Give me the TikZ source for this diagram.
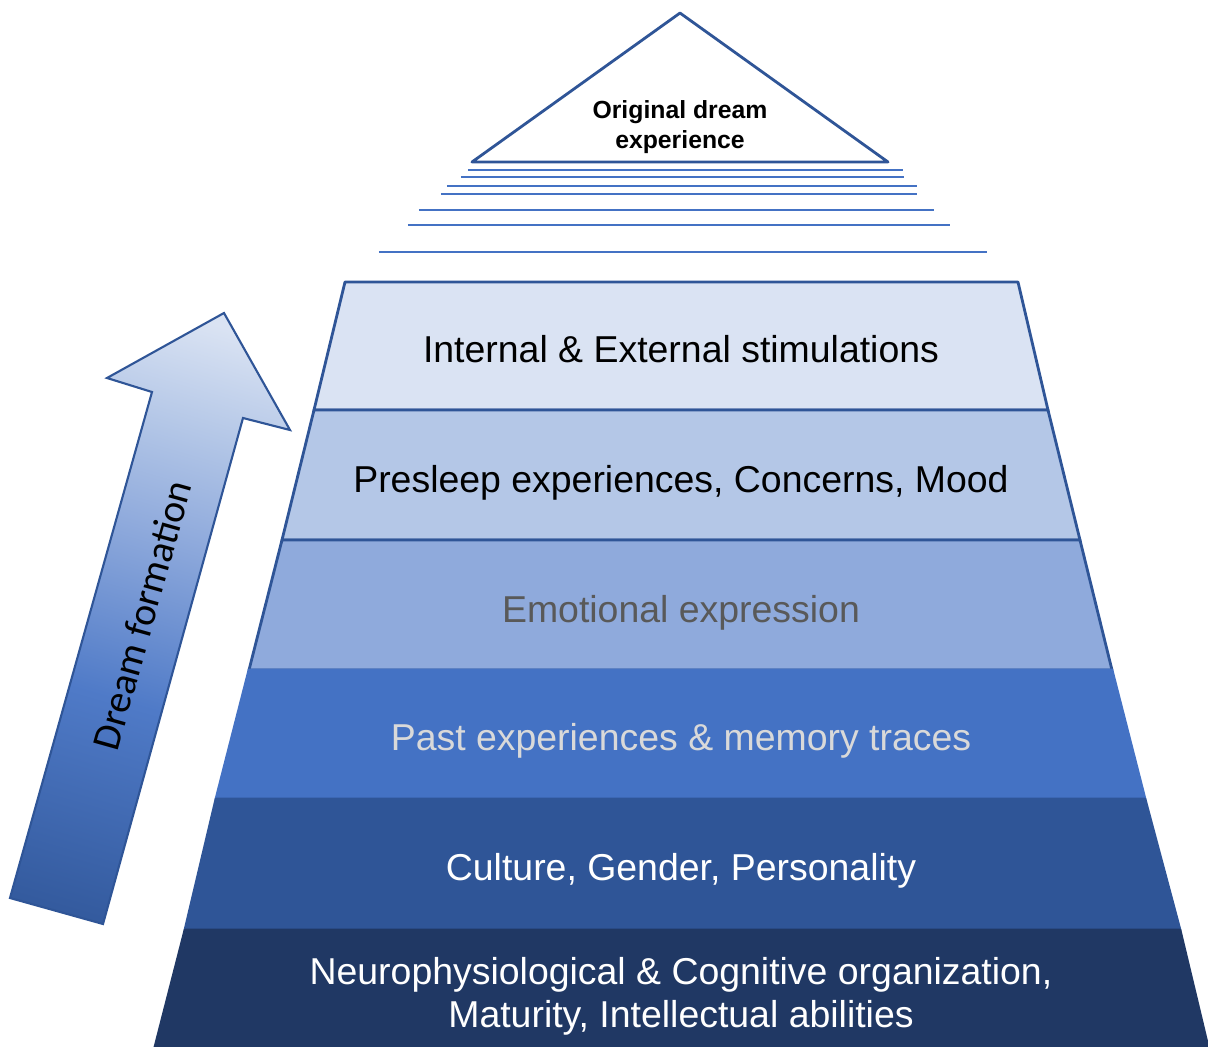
\documentclass[tikz,border=0pt]{standalone}
\usepackage{fontspec}
\setmainfont{Liberation Sans}
\newfontfamily\calibrifont{Carlito}
\definecolor{layerA}{HTML}{DAE3F3}
\definecolor{layerB}{HTML}{B4C7E7}
\definecolor{layerC}{HTML}{8FAADC}
\definecolor{layerD}{HTML}{4472C4}
\definecolor{layerE}{HTML}{2F5597}
\definecolor{layerF}{HTML}{203864}
\definecolor{edgeblue}{HTML}{2F5597}
\definecolor{lineblue}{HTML}{4472C4}
\pgfdeclareverticalshading{arrowshade}{100bp}{color(0bp)=(layerE); color(18bp)=(layerE); color(42bp)=(layerD!85!layerC); color(58bp)=(layerC); color(68bp)=(layerB); color(78bp)=(layerA); color(100bp)=(layerA)}
\tikzset{
  layer/.style={draw=edgeblue, line width=0.8pt, line join=round},
  label/.style={font=\fontsize{10.65}{12.2}\selectfont, align=center, inner sep=0pt}
}
\begin{document}
\begin{tikzpicture}[x=1cm, y=-1cm]
  \useasboundingbox (0,0) rectangle (12.08,10.47);

  % top of the pyramid
  \coordinate (apex) at (6.80, 0.13);
  \coordinate (tl) at (4.72, 1.62);
  \coordinate (tr) at (8.88, 1.62);
  \draw[edgeblue, line width=0.8pt, line join=round] (apex) -- (tr) -- (tl) -- cycle;
  \node[label, font=\bfseries\fontsize{7.05}{8.5}\selectfont] (origin) at (6.80, 1.27) {Original dream\\experience};

  \draw[lineblue, line width=0.5pt] (4.68, 1.70) -- (9.03, 1.70);
  \draw[lineblue, line width=0.5pt] (4.61, 1.77) -- (9.04, 1.77);
  \draw[lineblue, line width=0.5pt] (4.47, 1.86) -- (9.17, 1.86);
  \draw[lineblue, line width=0.5pt] (4.41, 1.94) -- (9.17, 1.94);
  \draw[lineblue, line width=0.5pt] (4.19, 2.10) -- (9.34, 2.10);
  \draw[lineblue, line width=0.5pt] (4.08, 2.25) -- (9.50, 2.25);
  \draw[lineblue, line width=0.5pt] (3.79, 2.52) -- (9.87, 2.52);

  % layers
  \draw[layer, fill=layerA] (3.45, 2.82) -- (10.18, 2.82) -- (10.48, 4.10) -- (3.14, 4.10) -- cycle;
  \draw[layer, fill=layerB] (3.14, 4.10) -- (10.48, 4.10) -- (10.80, 5.40) -- (2.82, 5.40) -- cycle;
  \draw[layer, fill=layerC] (2.82, 5.40) -- (10.80, 5.40) -- (11.12, 6.70) -- (2.49, 6.70) -- cycle;
  \draw[layer, draw=layerD, fill=layerD] (2.49, 6.70) -- (11.12, 6.70) -- (11.45, 7.99) -- (2.16, 7.99) -- cycle;
  \draw[layer, draw=layerE, fill=layerE] (2.16, 7.99) -- (11.45, 7.99) -- (11.80, 9.30) -- (1.85, 9.30) -- cycle;
  \draw[layer, draw=layerF, fill=layerF] (1.85, 9.30) -- (11.80, 9.30) -- (12.08, 10.47) -- (1.55, 10.47) -- cycle;

  \node[label, anchor=base] (stim) at (6.81, 3.62) {Internal \& External stimulations};
  \node[label, anchor=base] (presleep) at (6.81, 4.92) {Presleep experiences, Concerns, Mood};
  \node[label, anchor=base, text=black!65] (emotion) at (6.81, 6.22) {Emotional expression};
  \node[label, anchor=base, text=black!15] (past) at (6.81, 7.50) {Past experiences \& memory traces};
  \node[label, anchor=base, text=white] (culture) at (6.81, 8.80) {Culture, Gender, Personality};
  \node[label, text=white] (neuro) at (6.81, 9.96) {Neurophysiological \& Cognitive organization,\\Maturity, Intellectual abilities};

  % arrow on the left
  \draw[edgeblue, line width=0.6pt, line join=miter, shading=arrowshade, shading angle=-16]
    (0.10, 8.98) -- (1.52, 3.92) -- (1.07, 3.78) -- (2.24, 3.13) -- (2.90, 4.30) -- (2.43, 4.18) -- (1.03, 9.24) -- cycle;
  \node[font=\calibrifont\fontsize{11.3}{13}\selectfont, rotate=74.3, inner sep=0pt] (formation) at (1.42, 6.15) {Dream formation};
\end{tikzpicture}
\end{document}
